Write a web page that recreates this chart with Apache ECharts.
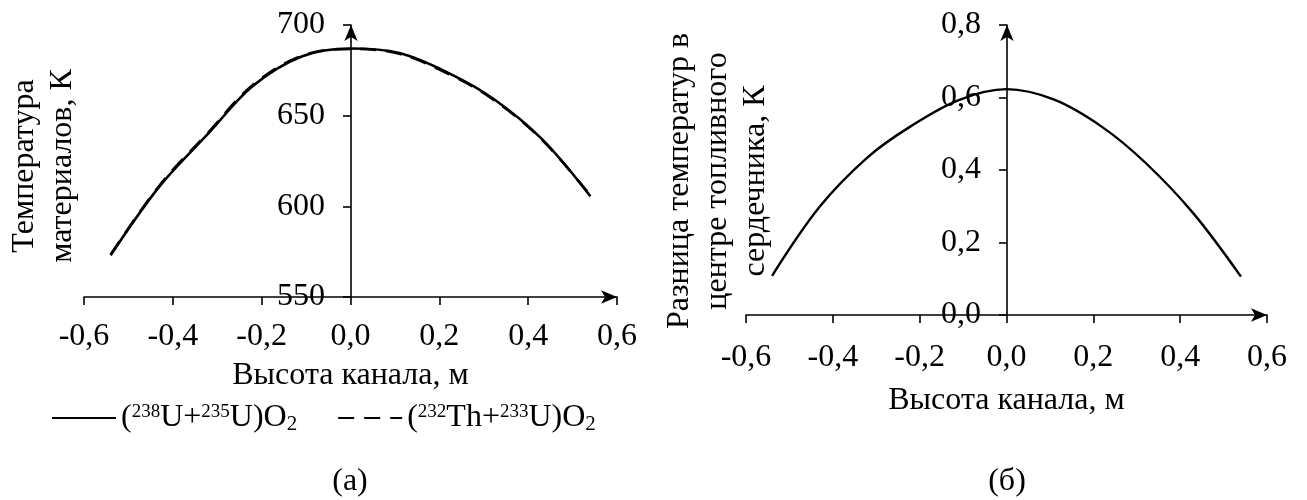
<!DOCTYPE html>
<html><head><meta charset="utf-8">
<script src="https://cdn.jsdelivr.net/npm/echarts@6/dist/echarts.min.js"></script>
<style>html,body{margin:0;padding:0;background:#fff}#c{width:1307px;height:500px}</style>
</head><body><div id="c"></div>
<script>
// ---- data ----
const channelHeight = [-0.54, -0.43, -0.32, -0.22, -0.11, 0, 0.11, 0.22, 0.32, 0.43, 0.54];
const tempUO2  = [573.0, 611.0, 640.2, 666.3, 682.6, 687.0, 684.5, 673.6, 659.6, 637.3, 605.6];
const tempThO2 = [573.4, 611.5, 640.8, 666.9, 683.0, 686.8, 684.1, 673.1, 659.1, 637.0, 606.0];
const deltaCenterT = [0.108, 0.299, 0.435, 0.521, 0.593, 0.623, 0.594, 0.519, 0.420, 0.281, 0.106];
const seriesNames = ['(238U+235U)O2', '(232Th+233U)O2'];
const legendRich = {
  '(238U+235U)O2': '{n|(}{s|238}{n|U+}{s|235}{n|U)O}{b|2}',
  '(232Th+233U)O2': '{n|(}{s|232}{n|Th+}{s|233}{n|U)O}{b|2}'
};
const leftYTitle = 'Температура\nматериалов, К';
const rightYTitle = 'Разница температур в\nцентре топливного\nсердечника, К';
const xTitle = 'Высота канала, м';
const panelLabels = ['(а)', '(б)'];

const FF = "'Liberation Serif', 'Times New Roman', serif";
const FS = 32;
const comma = v => v.toFixed(1).replace('.', ',');
const pairs = ys => channelHeight.map((x, i) => [x, ys[i]]);

const axisLineX = {
  show: true, onZero: false,
  symbol: ['none', 'arrow'], symbolSize: [10, 16], symbolOffset: [0, 0],
  lineStyle: { color: '#000', width: 1.6 }
};
const axisLineY = Object.assign({}, axisLineX);
const txt = { color: '#000', fontFamily: FF, fontSize: FS };
const tick = { show: true, inside: false, length: 8, lineStyle: { color: '#000', width: 1.6 } };

function xAx(gi, gap, lm) {
  return {
    type: 'value', gridIndex: gi, min: -0.6, max: 0.6, interval: 0.2,
    axisLine: axisLineX, axisTick: tick,
    axisLabel: Object.assign({ margin: lm, formatter: comma, showMinLabel: true, showMaxLabel: true }, txt),
    splitLine: { show: false },
    name: xTitle, nameLocation: 'middle', nameGap: gap, nameTextStyle: txt
  };
}

const chart = echarts.init(document.getElementById('c'), null, { renderer: 'canvas' });
chart.setOption({
  backgroundColor: '#fff',
  animation: false,
  grid: [
    { left: 84, right: 690, top: 25, bottom: 203, outerBoundsMode: 'none', containLabel: false },
    { left: 746, right: 40, top: 25, bottom: 185, outerBoundsMode: 'none', containLabel: false }
  ],
  xAxis: [xAx(0, 63, 24), xAx(1, 70, 27)],
  yAxis: [
    {
      type: 'value', gridIndex: 0, min: 550, max: 700, interval: 50,
      offset: -267,
      axisLine: axisLineY, axisTick: tick,
      axisLabel: Object.assign({ margin: 26 }, txt),
      splitLine: { show: false }
    },
    {
      type: 'value', gridIndex: 1, min: 0, max: 0.8, interval: 0.2,
      offset: -261,
      axisLine: axisLineY, axisTick: tick,
      axisLabel: Object.assign({ margin: 26, formatter: comma }, txt),
      splitLine: { show: false }
    }
  ],
  legend: {
    left: 46, top: 396, itemWidth: 64, itemHeight: 14, itemGap: 40,
    data: seriesNames,
    itemStyle: { opacity: 0 },
    formatter: n => legendRich[n],
    textStyle: {
      color: '#000', fontFamily: FF, fontSize: FS,
      rich: {
        n: { fontFamily: FF, fontSize: FS, lineHeight: 34, color: '#000' },
        s: { fontFamily: FF, fontSize: 19, lineHeight: 34, verticalAlign: 'top', color: '#000', padding: [2, 0, 0, 0] },
        b: { fontFamily: FF, fontSize: 21, lineHeight: 34, verticalAlign: 'bottom', color: '#000' }
      }
    }
  },
  series: [
    {
      name: seriesNames[0], type: 'line', xAxisIndex: 0, yAxisIndex: 0,
      data: pairs(tempUO2), smooth: 0.35, symbol: 'none',
      lineStyle: { color: '#000', width: 2.6, type: 'solid' }, itemStyle: { color: '#000' }
    },
    {
      name: seriesNames[1], type: 'line', xAxisIndex: 0, yAxisIndex: 0,
      data: pairs(tempThO2), smooth: 0.35, symbol: 'none',
      lineStyle: { color: '#000', width: 2.6, type: [16, 10] }, itemStyle: { color: '#000' }
    },
    {
      name: 'delta', type: 'line', xAxisIndex: 1, yAxisIndex: 1,
      data: pairs(deltaCenterT), smooth: 0.35, symbol: 'none',
      lineStyle: { color: '#000', width: 2.4 }, itemStyle: { color: '#000' }
    }
  ],
  graphic: [
    { type: 'text', x: 44, y: 166, rotation: Math.PI / 2,
      style: { text: leftYTitle, align: 'center', verticalAlign: 'middle', lineHeight: 38, fill: '#000', font: FS + 'px ' + FF } },
    { type: 'text', x: 718, y: 181, rotation: Math.PI / 2,
      style: { text: rightYTitle, align: 'center', verticalAlign: 'middle', lineHeight: 38, fill: '#000', font: FS + 'px ' + FF } },
    { type: 'text', x: 350, y: 482,
      style: { text: panelLabels[0], align: 'center', verticalAlign: 'middle', fill: '#000', font: FS + 'px ' + FF } },
    { type: 'text', x: 1007, y: 482,
      style: { text: panelLabels[1], align: 'center', verticalAlign: 'middle', fill: '#000', font: FS + 'px ' + FF } }
  ]
});
</script></body></html>
